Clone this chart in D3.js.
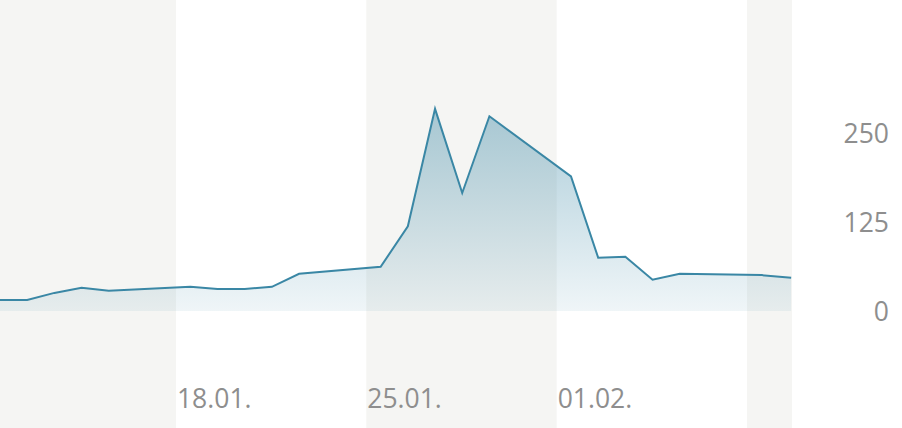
<!DOCTYPE html>
<html lang="de">
<head>
  <meta charset="UTF-8">
  <title>Verlauf</title>
  <script src="https://d3js.org/d3.v7.min.js"></script>
  <style>
    html, body {
      margin: 0;
      padding: 0;
      background: #fff;
    }
    .band {
      fill: #f5f5f3;
    }
    .line {
      fill: none;
      stroke: #3a87a5;
      stroke-width: 2px;
      stroke-linejoin: miter;
    }
    .tick-label {
      font-family: "Open Sans", sans-serif;
      font-size: 26.5px;
      fill: #8e8e8e;
    }
  </style>
</head>
<body>
  <svg width="902" height="428"></svg>

  <script>
    // Data (one sample per day, missing days are not shown)
    const dates = [
      "2021-01-11T12:40", "2021-01-12T12:40", "2021-01-13T12:40", "2021-01-14T12:40", "2021-01-15T12:40",
      "2021-01-18T12:40", "2021-01-19T12:40", "2021-01-20T12:40", "2021-01-21T12:40", "2021-01-22T12:40",
      "2021-01-25T12:40", "2021-01-26T12:40", "2021-01-27T12:40", "2021-01-28T12:40", "2021-01-29T12:40",
      "2021-02-01T12:40", "2021-02-02T12:40", "2021-02-03T12:40", "2021-02-04T12:40", "2021-02-05T12:40",
      "2021-02-08T12:40", "2021-02-09T15:00"
    ];
    const values = [
      15.4, 15.4, 25.5, 32.7, 28.5,
      34.1, 30.9, 30.9, 34.1, 52.4,
      62.2, 119.4, 284.7, 166.2, 274.3,
      189.6, 75.1, 76.3, 44, 52.4,
      50.6, 46.8
    ];
    const rangeEnd = "2021-02-09T15:45";
    const yTicks = [0, 125, 250];

    const svg = d3.select("svg");
    const width = +svg.attr("width");
    const height = +svg.attr("height");

    const parse = d3.timeParse("%Y-%m-%dT%H:%M");
    const points = dates.map((d, i) => ({
      date: parse(d),
      value: values[i]
    }));

    const plotRight = 792;

    const x = d3.scaleTime()
      .domain([points[0].date, parse(rangeEnd)])
      .range([0, plotRight]);

    const y = d3.scaleLinear()
      .domain([0, 250])
      .range([311, 133.5]);

    // Alternating week bands (Monday to Monday)
    const [start, end] = x.domain();
    const mondays = d3.timeMonday.range(d3.timeMonday.floor(start), end);
    svg.append("g")
      .selectAll("rect")
      .data(mondays.filter((d, i) => i % 2 === 0))
      .enter().append("rect")
      .attr("class", "band")
      .attr("x", d => Math.max(0, x(d)))
      .attr("y", 0)
      .attr("width", d => Math.min(plotRight, x(d3.timeMonday.offset(d, 1))) - Math.max(0, x(d)))
      .attr("height", height);

    // Gradient for the area under the line
    const maxVal = d3.max(values);
    const grad = svg.append("defs").append("linearGradient")
      .attr("id", "areaFill")
      .attr("gradientUnits", "userSpaceOnUse")
      .attr("x1", 0).attr("x2", 0)
      .attr("y1", y(maxVal)).attr("y2", y(0));
    grad.append("stop").attr("offset", "0%")
      .attr("stop-color", "#3a87a5").attr("stop-opacity", 0.42);
    grad.append("stop").attr("offset", "100%")
      .attr("stop-color", "#3a87a5").attr("stop-opacity", 0.08);

    const area = d3.area()
      .x(d => x(d.date))
      .y0(y(0))
      .y1(d => y(d.value));

    const line = d3.line()
      .x(d => x(d.date))
      .y(d => y(d.value));

    svg.append("path")
      .datum(points)
      .attr("fill", "url(#areaFill)")
      .attr("d", area);

    svg.append("path")
      .datum(points)
      .attr("class", "line")
      .attr("d", line);

    // Y axis labels on the right
    svg.append("g")
      .selectAll("text")
      .data(yTicks)
      .enter().append("text")
      .attr("class", "tick-label")
      .attr("x", 889)
      .attr("y", d => y(d))
      .attr("dy", "0.36em")
      .attr("text-anchor", "end")
      .text(d => d);

    // X axis labels (Mondays), skip the ones that would run past the plot
    const fmt = d3.timeFormat("%d.%m.");
    svg.append("g")
      .selectAll("text")
      .data(x.ticks(d3.timeMonday.every(1)).filter(d => x(d) < plotRight - 80))
      .enter().append("text")
      .attr("class", "tick-label")
      .attr("x", d => x(d) + 1)
      .attr("y", 408)
      .text(d => fmt(d));
  </script>
</body>
</html>
